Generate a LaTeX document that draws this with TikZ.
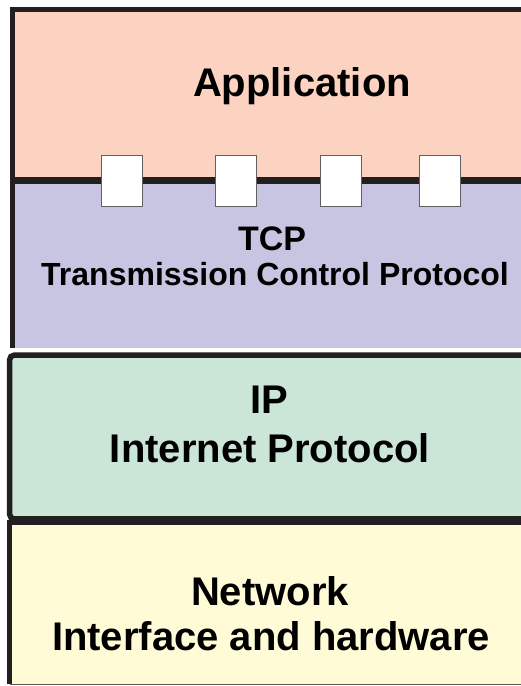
\documentclass[tikz,border=0pt]{standalone}
\usepackage{fontspec}
\setmainfont{Liberation Sans}
\usepackage{tikz}
\usetikzlibrary{positioning}
\definecolor{edgeblack}{RGB}{35,31,32}
\definecolor{appfill}{RGB}{252,211,193}
\definecolor{tcpfill}{RGB}{200,197,226}
\definecolor{ipfill}{RGB}{203,230,215}
\definecolor{netfill}{RGB}{255,251,214}

\begin{document}
\begin{tikzpicture}[x=1pt,y=-1pt, every node/.style={inner sep=0pt}]
    \tikzset{edge/.style={draw=edgeblack,line width=5pt}}
    \tikzset{port/.style={draw=gray!75!black,fill=white,line width=0.8pt,minimum width=41pt,minimum height=51pt}}
    \tikzset{biglabel/.style={anchor=base,font=\bfseries\fontsize{40}{48}\selectfont}}
    \tikzset{midlabel/.style={anchor=base,font=\bfseries\fontsize{32}{38}\selectfont}}
    \useasboundingbox (0,0) rectangle (521,686);
    \clip (0,0) rectangle (521,686);

    % Application over TCP (one frame)
    \fill[appfill] (12.5,9.5) rectangle (560,180);
    \fill[tcpfill] (12.5,180) rectangle (560,348);
    \draw[edge] (12.5,348) -- (12.5,9.5) -- (560,9.5);
    \draw[edge,line width=6.5pt] (12.5,180.5) -- (560,180.5);
    \node[biglabel] (app) at (302,96) {Application};
    \node[midlabel,font=\bfseries\fontsize{34}{40}\selectfont] (tcp) at (272,250) {TCP};
    \node[midlabel] (tcpname) at (275,285) {Transmission Control Protocol};

    % ports between the two
    \node[port] (port1) at (122,180.5) {};
    \node[port] (port2) at (235.5,180.5) {};
    \node[port] (port3) at (340.5,180.5) {};
    \node[port] (port4) at (439.5,180.5) {};

    % IP
    \draw[edge,fill=ipfill,line width=5.5pt,rounded corners=5pt] (9.5,355) rectangle (560,519);
    \node[biglabel] (ip) at (269,413) {IP};
    \node[biglabel] (ipname) at (270,462) {Internet Protocol};

    % Network
    \fill[netfill] (9.5,520) rectangle (560,684);
    \draw[gray!70!black,line width=1pt] (9.5,684) -- (560,684);
    \draw[edge] (9.5,520) -- (9.5,684);
    \draw[edge,line width=9pt] (9.5,520) -- (560,520);
    \node[biglabel] (net) at (270,605) {Network};
    \node[biglabel] (netname) at (271,650) {Interface and hardware};
\end{tikzpicture}
\end{document}
